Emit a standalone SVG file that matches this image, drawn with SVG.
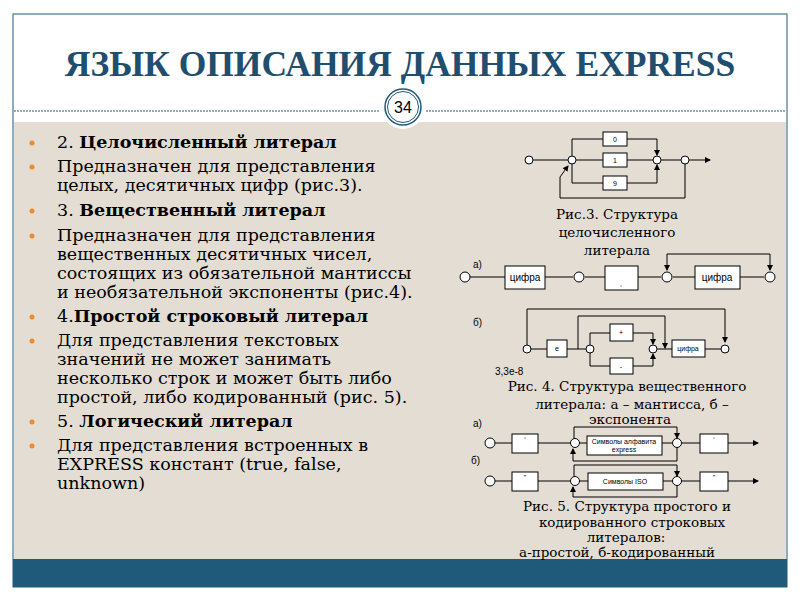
<svg xmlns="http://www.w3.org/2000/svg" width="800" height="600" viewBox="0 0 800 600">
<defs>
<marker id="ar" markerWidth="6" markerHeight="6" refX="5" refY="3" orient="auto" markerUnits="userSpaceOnUse"><path d="M0,0 L6,3 L0,6 Z" fill="#000"/></marker>
<style>
.t{font-family:"DejaVu Serif","Liberation Serif",serif;font-size:17.5px;fill:#000}
.b{font-weight:bold}
.c{font-family:"DejaVu Serif","Liberation Serif",serif;font-size:13.5px;fill:#000;text-anchor:middle}
.s{font-family:"Liberation Sans",Arial,sans-serif;font-size:10px;fill:#000}
.bx{font-family:"Liberation Sans",Arial,sans-serif;font-size:7px;fill:#000;text-anchor:middle}
.bb{font-family:"Liberation Sans",Arial,sans-serif;font-size:10px;fill:#000;text-anchor:middle}
rect.n{fill:#fff;stroke:#000;stroke-width:1}
circle.n{fill:#fff;stroke:#000;stroke-width:1}
.ln{fill:none;stroke:#000;stroke-width:1}
.bul{fill:#f0892a}
</style>
</defs>
<rect width="800" height="600" fill="#fff"/>
<rect x="13" y="14" width="774" height="573" fill="#fff" stroke="#1f5a7a" stroke-width="1"/>
<rect x="14" y="122" width="772" height="437" fill="#e3ddd3"/>
<rect x="13" y="559" width="774" height="28" fill="#1f5a7a"/>
<line x1="14" y1="111" x2="380" y2="111" stroke="#1f5a7a" stroke-dasharray="2,1"/>
<line x1="426" y1="111" x2="786" y2="111" stroke="#1f5a7a" stroke-dasharray="2,1"/>
<text x="400" y="76" text-anchor="middle" font-family="Liberation Serif,serif" font-weight="bold" font-size="35.5" fill="#1f4e6e">ЯЗЫК ОПИСАНИЯ ДАННЫХ EXPRESS</text>
<circle cx="403" cy="107" r="22" fill="#fff"/>
<circle cx="403" cy="107" r="18" fill="#fff" stroke="#1f5a7a" stroke-width="1.5"/>
<circle cx="403" cy="107" r="15.5" fill="none" stroke="#1f5a7a" stroke-width="1"/>
<text x="403" y="113" text-anchor="middle" font-family="Liberation Sans,sans-serif" font-size="16" fill="#000">34</text>

<g id="text">
<g class="bul"><circle cx="32" cy="143" r="2.5"/><circle cx="32" cy="167" r="2.5"/><circle cx="32" cy="211" r="2.5"/><circle cx="32" cy="236" r="2.5"/><circle cx="32" cy="317" r="2.5"/><circle cx="32" cy="341" r="2.5"/><circle cx="32" cy="422" r="2.5"/><circle cx="32" cy="446" r="2.5"/></g>
<text class="t" x="57" y="148">2. <tspan class="b">Целочисленный литерал</tspan></text>
<text class="t" x="57" y="172">Предназначен для представления</text>
<text class="t" x="57" y="191">целых, десятичных цифр (рис.3).</text>
<text class="t" x="57" y="216">3. <tspan class="b">Вещественный литерал</tspan></text>
<text class="t" x="57" y="241">Предназначен для представления</text>
<text class="t" x="57" y="260">вещественных десятичных чисел,</text>
<text class="t" x="57" y="279">состоящих из обязательной мантиссы</text>
<text class="t" x="57" y="298">и необязательной экспоненты (рис.4).</text>
<text class="t" x="57" y="322">4.<tspan class="b">Простой строковый литерал</tspan></text>
<text class="t" x="57" y="346">Для представления текстовых</text>
<text class="t" x="57" y="365">значений не может занимать</text>
<text class="t" x="57" y="384">несколько строк и может быть либо</text>
<text class="t" x="57" y="403">простой, либо кодированный (рис. 5).</text>
<text class="t" x="57" y="427">5. <tspan class="b">Логический литерал</tspan></text>
<text class="t" x="57" y="451"> Для представления встроенных в</text>
<text class="t" x="57" y="470">EXPRESS констант (true, false,</text>
<text class="t" x="57" y="489">unknown)</text>
</g>

<g id="fig3">
<g class="ln">
<path d="M533,160 H568"/><path d="M576,160 H603"/><path d="M627,160 H653"/>
<path d="M572,156 V139 H603 M627,139 H657 V155" marker-end="url(#ar)"/>
<path d="M572,164 V183 H603 M627,183 H657 V165" marker-end="url(#ar)"/>
<path d="M661,160 H681"/><path d="M689,160 H710" marker-end="url(#ar)"/>
<path d="M685,164 V198 H560 V177 L568,166" marker-end="url(#ar)"/>
</g>
<rect class="n" x="603" y="132" width="24" height="14"/><text class="bx" x="615" y="142">0</text>
<rect class="n" x="603" y="153" width="24" height="14"/><text class="bx" x="615" y="163">1</text>
<rect class="n" x="603" y="176" width="24" height="14"/><text class="bx" x="615" y="186">9</text>
<circle class="n" cx="529" cy="160" r="4"/><circle class="n" cx="572" cy="160" r="4"/><circle class="n" cx="657" cy="160" r="4"/><circle class="n" cx="685" cy="160" r="4"/>
<text class="c" x="617" y="219">Рис.3. Структура</text>
<text class="c" x="617" y="237">целочисленного</text>
<text class="c" x="617" y="255">литерала</text>
</g>

<g id="fig4">
<text class="s" x="473" y="268">а)</text>
<g class="ln">
<path d="M470,277 H505 M545,277 H573 M585,277 H605 M638,277 H661 M673,277 H695 M740,277 H764"/>
<path d="M667,254 H770 V270" marker-end="url(#ar)"/><path d="M667,254 V270" marker-end="url(#ar)"/>
</g>
<rect class="n" x="505" y="266" width="40" height="23"/><text class="bb" x="525" y="281">цифра</text>
<rect class="n" x="605" y="266" width="33" height="24"/><text class="bx" x="621" y="286">,</text>
<rect class="n" x="695" y="266" width="45" height="23"/><text class="bb" x="717" y="281">цифра</text>
<circle class="n" cx="465" cy="277" r="5"/><circle class="n" cx="579" cy="277" r="5"/><circle class="n" cx="667" cy="277" r="5"/><circle class="n" cx="770" cy="277" r="5"/>

<text class="s" x="473" y="326">б)</text>
<g class="ln">
<path d="M527,345 V309 H725 V342" marker-end="url(#ar)"/>
<path d="M531,349 H547 M567,349 H586 M657,349 H672 M705,349 H721"/>
<path d="M578,349 V316 H665 V348" marker-end="url(#ar)"/>
<path d="M590,345 V333 H610 M633,333 H653 V344" marker-end="url(#ar)"/>
<path d="M590,353 V366 H610 M633,366 H653 V354" marker-end="url(#ar)"/>
</g>
<rect class="n" x="547" y="340" width="20" height="17"/><text class="bx" x="557" y="351">e</text>
<rect class="n" x="610" y="324" width="23" height="17"/><text class="bx" x="621" y="335">+</text>
<rect class="n" x="610" y="358" width="23" height="16"/><text class="bx" x="621" y="369">-</text>
<rect class="n" x="672" y="340" width="33" height="17"/><text class="bx" x="688" y="351">цифра</text>
<circle class="n" cx="527" cy="349" r="4"/><circle class="n" cx="590" cy="349" r="4"/><circle class="n" cx="653" cy="349" r="4"/><circle class="n" cx="725" cy="349" r="4"/>
<text class="s" x="495" y="375" font-size="9">3,3е-8</text>
<text class="c" x="627" y="391">Рис. 4. Структура вещественного</text>
<text class="c" x="632" y="409">литерала: а – мантисса, б –</text>
<text class="c" x="630" y="424">экспонента</text>
</g>

<g id="fig5">
<text class="s" x="473" y="427">а)</text>
<g class="ln">
<path d="M495,443 H512 M538,443 H570 M579,443 H587 M662,443 H672 M681,443 H700"/>
<path d="M728,443 H758" marker-end="url(#ar)"/>
<path d="M574,439 V427 H677 V438" marker-end="url(#ar)"/>
<path d="M677,447 V461 H573 V449" marker-end="url(#ar)"/>
</g>
<rect class="n" x="512" y="434" width="26" height="19"/><text class="bx" x="525" y="442">‘</text>
<rect class="n" x="587" y="436" width="75" height="19"/><text class="bx" x="624" y="444">Символы алфавита</text><text class="bx" x="624" y="452">express</text>
<rect class="n" x="700" y="434" width="28" height="19"/><text class="bx" x="714" y="442">‘</text>
<circle class="n" cx="490" cy="443" r="5"/><circle class="n" cx="575" cy="443" r="4.5"/><circle class="n" cx="677" cy="443" r="4.5"/>

<text class="s" x="471" y="464">б)</text>
<g class="ln">
<path d="M495,481 H512 M538,481 H570 M579,481 H588 M663,481 H672 M681,481 H700"/>
<path d="M728,481 H758" marker-end="url(#ar)"/>
<path d="M574,477 V465 H677 V476" marker-end="url(#ar)"/>
<path d="M677,485 V497 H573 V487" marker-end="url(#ar)"/>
</g>
<rect class="n" x="512" y="472" width="26" height="19"/><text class="bx" x="525" y="480">"</text>
<rect class="n" x="588" y="473" width="75" height="17"/><text class="bx" x="625" y="484">Символы ISO</text>
<rect class="n" x="700" y="472" width="28" height="19"/><text class="bx" x="714" y="480">"</text>
<circle class="n" cx="490" cy="481" r="5"/><circle class="n" cx="575" cy="481" r="4.5"/><circle class="n" cx="677" cy="481" r="4.5"/>
<text class="c" x="627" y="511">Рис. 5. Структура простого и</text>
<text class="c" x="632" y="527">кодированного строковых</text>
<text class="c" x="626" y="542">литералов:</text>
<text class="c" x="617" y="557">а-простой, б-кодированный</text>
</g>
</svg>
